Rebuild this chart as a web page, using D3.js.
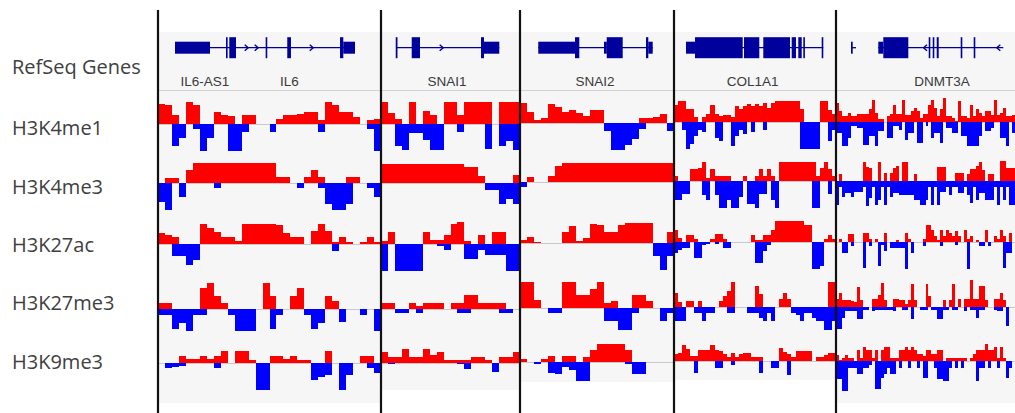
<!DOCTYPE html>
<html><head><meta charset="utf-8">
<script src="https://cdn.jsdelivr.net/npm/d3@7"></script>
<style>html,body{margin:0;padding:0;background:#fff;}svg{display:block}</style>
</head><body><svg id="c" width="1015" height="413"></svg>
<script>
// ---------------- data ----------------
const trackNames = ["H3K4me1", "H3K4me3", "H3K27ac", "H3K27me3", "H3K9me3"];
const regionNames = ["IL6", "SNAI1", "SNAI2", "COL1A1", "DNMT3A"];
const binsPerRegion = [32, 20, 22, 40, 60];

// signal above baseline (red) and below baseline (blue, magnitudes), per region
const H3K4me1_up = [
  [7.5,7,3.5,0,8,7,0,0,4.5,3.5,3,0,3.5,3.5,0,0,0,2,3.5,3.5,3.7,4.5,4.5,1.5,8,7,4.5,4.5,2.5,0,1.5,2],
  [8,4,2,0,8.1,0,4.7,3.5,0,8.1,8.1,3.5,8.1,8.1,8.1,8.1,0,8.1,8.1,8.1],
  [7.5,4,1.2,2,7,6,4,5,3.7,2.7,4.7,4.7,0,0,0,0,0,1.9,1.9,2.3,3.5,0],
  [6.4,7.7,7.7,5,5,2,0,2,3,6.4,3,2.3,2.5,2.5,1.8,6,5,6,6.5,6,6.5,6,7,5.3,7,7.7,7.7,7.7,7.7,7.7,7.7,5,0,0,0,0,7.7,7.7,4.6,3],
  [7,4,2.1,2.1,3.3,2.1,2.1,3.1,3.1,3.1,3.1,5,8.3,3.3,1.1,1.1,0,2.1,3,6.4,3.1,3.1,8.3,2.7,2.7,4,5.2,4,1.5,3.1,3.1,6.4,8.3,5.2,2.1,5,8.9,2.1,2.1,1.5,0.5,7.7,2.1,2.1,1.5,6.4,2.1,5,3.5,2.1,4,4,2.7,8.3,2.7,3.5,5.2,2.1,2.1,2.7]
];
const H3K4me1_down = [
  [0,0,8,5,0,2,10,5,0,0,10,10,3,0,0,0,3,0,0,0,0,0,0,3,0,0,0,0,0,0,2,10],
  [0,0,8.3,9.5,3.3,3.3,5.8,9.5,9.5,0,0,3.1,0,0,0,9.3,0,8.3,6.4,9.5],
  [0,0,0,0,0,0,0,0,0,0,0,0,3.1,9.9,9.9,8,6,2.2,0,0,0,3.1],
  [0,0,3,10,8,5,2.8,3.8,0,0,6,7,0,0,8.8,5.3,3,4.5,0,3.8,0,0,2.8,0,0,0,0,0,0,0,0,10,10,10,10,10,0,0,7.2,3],
  [4.1,4.1,9,9,5.9,1.4,1.4,2.2,2.2,8.4,8.4,5.3,5.3,9,3.5,3.5,0,5.9,5.9,1.6,1.6,2.8,0,6.5,4.1,4.1,0,7.8,7.8,0,1.4,0,5.9,4.1,4.1,7.8,0,2.2,2.2,4.1,4.1,0,5.3,5.3,9,9,9,9,5.3,0,3.5,3.5,2.2,0,0,5.9,5.9,9,0,4.1]
];
const H3K4me3_up = [
  [0,2,2,0,5,7.4,7.4,7.4,7.4,7.4,7.4,7.4,7.4,7.4,7.4,7.4,7.4,2.2,2.2,0,0,2.2,5,2.2,0,0,0,2.2,2.2,0,0,0],
  [7,7,7,7,7,7,7,7,7,7,7,7,6,6,2.5,0,0,0,0,3],
  [0,1.7,0,0,2.3,6,7,7,7,7,7,7,7,7,7,7,7,7,7,7,7,7],
  [1.7,0,0,0,4.6,4.6,5,7,1,4.6,1.7,1.7,1.7,1.7,0,0,0,1.7,0,0,1.7,4.6,1.7,4.6,1.7,0,7,7,7,7,7,7,7,7,7,1.7,5,7,4.6,1.7],
  [0,2.6,0,0,0,0,0,0,0,7.2,5.3,4.7,0,0,7.2,0,3,0,2.8,5,5.6,0,7.2,7.2,0,0,2.6,0,0,0,0,0,0,0,5.3,5.3,5.3,0,0,0,2.8,2.8,2.8,0,2.6,4.3,4.3,5.6,7.2,4,0,2.6,2.6,0,0,7.5,7.5,5,5,5]
];
const H3K4me3_down = [
  [7,10,0,5,0,0,0,0,2,0,0,0,0,0,0,0,0,0,0,0,2,0,0,2,7.7,10,10,7.7,0,0,2,5],
  [0,0,0,0,0,0,0,0,0,0,0,0,0,0,0,2.5,2.5,7.8,6,7.8],
  [2,0,0,0,0,0,0,0,0,0,0,0,0,0,0,0,0,0,0,0,0,0],
  [7.2,7.2,4.7,4.7,0,0,0,5,7.2,0,5,10,10,7.2,10,10,6,0,8.4,8.4,10,4.7,4.7,0,7.2,10,0,0,0,0,0,0,0,0,10,10,0,0,4.7,0],
  [8.9,2.1,5.8,4.6,4.6,6,4,4,4,2.1,9.3,6.4,2.1,8.9,7,2.1,8.9,2.1,5.8,4.6,4.6,5.2,5.2,5.2,5.2,5.2,7,7,8.9,8.9,7,2.1,8.9,2.1,8.9,4,4,2.1,5.2,2.1,2.1,4.6,4.6,2.1,5.2,8.3,2.1,7,4.6,4.6,7,7,7,2.1,8.9,2.1,7,2.1,8.9,8.9]
];
const H3K27ac_up = [
  [4.2,3.5,2.6,0,0,0,7.5,6,4.4,2.6,2.6,1,7.5,7.5,7.5,7.5,7.5,7,4,2.6,2.6,0,5,7.5,5,0.7,2.6,0.7,0,0.7,2.6,0.7],
  [1,4.4,0,0,0,0,4.4,1.6,1.6,3.5,7.5,8.1,1,0,3.5,0,4.4,4.4,0,0],
  [1,2.1,0.5,0,0,0,4,6.2,0.9,2,7,6.5,4.2,4.2,6.5,7.4,7.4,7.4,7.4,0,0,4],
  [4.3,1.5,0,2.7,2.7,1,0,0,0,1,3,3,1,0,0,0,0,0,0,2.7,0.8,0.8,2.7,2.7,4.6,7.7,7.7,7.7,7.7,7.7,7.7,7.7,6.2,6.2,0,0,0,1,2.7,1],
  [0,1.1,0,0,3,3,0,0,0,3.3,3.3,1.1,0,1.1,0,0,3.3,0,0,0,0.9,0,0,3.3,1,0,0,0,0,1.1,6.4,6.4,4.6,2.1,0.9,4.6,2.1,4.6,3.3,2.1,4,2.1,0,4.6,1,2.1,0,0.9,0,0,4.6,0,0,2.1,1,4.6,2.1,0,3.3,0]
];
const H3K27ac_down = [
  [0,0,4.5,4.5,7.7,6,0,0,0,0,0,0,0,0,0,0,0,0,0,0,0,0,0,0,0,2.6,0,0,0,0,0,0],
  [9.9,0,9.9,9.9,9.9,9.9,0,0,0.6,2.3,0,0,5.6,5.6,2.3,4,4,4,9.9,9.9],
  [0,0,0,0,0,0,0,0,0,0,0,0,0,0,0,0,0,0,0,4.7,10,4.7],
  [4,3,2.2,2.2,0,6,6,1,0.6,0,0.6,0,2.2,2.2,0,0,0,0,0,0,7.8,7.8,3.5,1,0,0,0,0,0,0,0,0,0,0,10,10,9,0,0,0],
  [0,0,4.1,4.1,0,1.4,0,0,0,9.6,0,1.4,0,0,8.8,1,3.5,0,2.2,2.2,2.2,2.2,2.2,10,0,4.1,0,0,0,1.4,0,0,0,0,0,1.4,0,0,0,0,1,0,0,0,10,0,0,0,1.4,1.4,0,1.4,0,0,0,0,9.6,4.1,4.1,0]
];
const H3K27me3_up = [
  [2.2,2.2,0,0,0,0,7.8,9.6,4.7,2.2,0,0,0,0,0,9.6,4.7,0,0,4.7,7.8,0,0,0,5,2.8,0,0,0,0,0,0],
  [2.3,2.3,0,0,2.3,1,2.3,2.3,2.3,0,2.3,2.3,5.2,5.2,2.3,2.3,2.3,2.3,0,0],
  [9.5,9.5,2.8,0,0,0,9.5,9.5,4.9,4.9,7,9.5,2,2.5,0,0,4.9,4.9,2.5,0,0,0],
  [5.1,2,0,2.2,2.2,0,2.2,0,0,0,0,2.2,4,5.9,9.3,0,0,0,0,0,7.8,5,0,0,0,0,3,5.3,3,0,0,0,0,0,0,0,0,0,9.3,9.3],
  [3,5.3,2.6,2.6,2.6,2.3,2,7.5,2.6,0,0,0,2.8,2.8,4.3,9,2.6,0,0,3,3,2.6,2.6,1,2.6,8.4,2.6,0,0,0,8.4,4,0,0,0,0,2.6,0,2.6,8.4,0,2.8,0,2.8,2.8,10,2.8,2.8,7.8,7.8,2.6,0,0,2.8,2.8,5.3,2.6,0,0,0]
];
const H3K27me3_down = [
  [2.1,2.1,7.4,5.2,8.3,2.1,2.1,0,0,0,2.1,8.3,8.3,8.3,0,0,7.4,2.1,0,0,0,2.1,7.4,5,0,0,4.8,0,0,2.1,0,8.3],
  [0,0,1.6,1.6,0,1.6,0,0,0,0,0,1.6,1.6,0,0,0,0,1.6,1.6,0],
  [0,0,0,0,1.9,1.9,0,0,0,0,0,0,4.9,4.9,8.3,8.3,1.9,0,0,0,4.9,1.9],
  [5.2,5.2,5.2,0,0,2.1,2.1,5.2,2.1,2.1,0,0,0,2.1,2.1,0,0,0,2.1,2.1,2.1,4,5.2,2.1,5.2,0,0,0,0,2.1,3,5.2,2.1,2.1,4,5.2,5.2,8.5,8.5,5.2],
  [8,8,4,1.5,1.5,1.5,1.5,4.6,4.6,1.1,1.1,0,1.5,1.1,1.1,1.1,1.1,1.1,1.1,1.5,0,0,1.1,1.1,0,4.6,0,0,1,1,1,0,1,1,4.6,4.6,1,1,0,1.1,1.1,0,0,1.5,0,1,1,4,1,1,0,0,0,1,1.5,1.5,0,7,0,0]
];
const H3K9me3_up = [
  [0,0,0,2.7,1.5,1.5,2.7,1.5,2.7,4.3,0,4.3,4.3,1.2,0,0,2.7,2.7,1.5,2.7,1.2,1.2,0,0,4.3,0,0,0,0,2.7,2.7,0],
  [4.1,2.2,2.2,5.3,2.2,2.2,5.3,3,4.1,1.2,1.2,1.2,1.2,2.2,2.2,1.2,0,2.2,2.2,4.1],
  [1,0,0,1,2.2,0,2.2,2.2,0,2,4.3,6.8,6.8,6.8,6.8,4.3,0,0,0,0,0,0],
  [2.5,3,5.9,4.5,1.8,1.8,4,4,4,5.9,4,3.7,2.5,1.5,3.1,1.5,2.5,3.1,3.1,1.5,1.5,1.5,0,0,0,0,4.9,3.5,2.5,1.5,3.7,3.7,3.7,3.7,0,1.5,1.5,2.2,3.1,3.1],
  [2.2,0.5,1.2,2.2,1,1.2,0,4,1.2,5.2,4,4,1.2,4,0,4,5.2,5.2,1.2,1.2,1.2,4,4,5.2,4,5.2,4,2.5,2.5,1.9,4,4,2.5,2.5,4,4,0,1.2,1.2,1.2,1.2,1.2,1.2,1.2,0,1.2,2.5,4,4,4,6.4,4,4,5.2,1.2,5.2,1.2,0,0,0]
];
const H3K9me3_down = [
  [0,1.9,1.5,1,0,0,0,0,1.9,0,0,0,0,0,10,10,0,0,0,0,0,0,6.4,5,4.3,0,10,4.3,0,0,1.9,3.7],
  [0,0.5,0,0,0,0,0,0,0,0,0,0.5,2.1,0,0,0,3.3,0,0,0],
  [0,0,0.9,0,4,4.6,2,3,7,7,0,0,0,0,0,0.9,4.6,4.6,0,0,0,0],
  [0,0,0,0,0,4.3,0,0,0,0,2.5,2.5,0,0,1.5,0,0,0,0,0,0,4.3,0,0,2.5,2.5,0,0,5.2,0,0,0,0,0,0,0,0,0,0,0],
  [6.8,6.8,11,11,2.5,2.5,2.5,4.9,4.9,2.5,2.5,1.5,0,10.5,10.5,6.2,4.9,2.5,4.9,4.9,0,2.5,0,0,2.5,0,0,2.5,0,6.2,6.2,0,0,2.5,6.8,6.8,7.4,7.4,2.5,0,2.5,0,2.5,0,0,0,0,7.4,2.5,2.5,0,2.5,0,0,2.5,0,0,6.2,2.5,0]
];
const upSeries = [H3K4me1_up, H3K4me3_up, H3K27ac_up, H3K27me3_up, H3K9me3_up];
const downSeries = [H3K4me1_down, H3K4me3_down, H3K27ac_down, H3K27me3_down, H3K9me3_down];

// RefSeq gene models, positions in bin units of each region
const geneLines = [
  [[2.44, 28.27]],
  [[2.16, 17.02]],
  [[2.61, 18.96]],
  [[2.96, 36.86]],
  [[5.03, 6.7], [14.18, 56.08]]
];
const geneExons = [
  [[2.44,7.46,"utr"],[9.76,9.98,"cds"],[10.23,11.19,"cds"],[15.45,15.64,"cds"],[18.55,19.08,"cds"],[26.12,26.59,"cds"],[26.59,28.27,"utr"]],
  [[2.12,2.37,"cds"],[4.42,5.61,"cds"],[14.39,14.82,"cds"],[14.82,17.02,"utr"]],
  [[2.61,7.86,"utr"],[7.86,8.47,"cds"],[12.0,12.4,"utr"],[12.39,14.67,"cds"],[18.0,18.33,"cds"],[18.33,18.96,"utr"]],
  [[2.96,5.19,"utr"],[5.19,16.96,"cds"],[17.28,21.06,"cds"],[22.05,28.64,"cds"],[29.06,30.12,"cds"],[30.69,31.53,"cds"],[31.93,32.27,"cds"],[36.47,36.86,"cds"]],
  [[5.03,5.6,"utr"],[14.18,15.86,"utr"],[15.86,24.24,"cds"],[31.08,31.51,"cds"],[32.42,32.95,"cds"],[33.76,34.43,"cds"],[41.8,42.24,"cds"],[46.16,46.6,"cds"]]
];
const geneArrows = [
  [[12.73,1],[14.16,1],[22.06,1]],
  [[8.73,1]],
  [],
  [],
  [[29.84,-1],[54.41,-1]]
];
const geneLabels = [
  [[6.74,"IL6-AS1"],[18.87,"IL6"]],
  [[9.5,"SNAI1"]],
  [[10.71,"SNAI2"]],
  [[19.4,"COL1A1"]],
  [[35.5,"DNMT3A"]]
];

// ---------------- layout ----------------
const W = 1015, H = 413;
const regionLeft = [158, 381, 520, 674, 836];
const regionRight = [381, 520, 674, 836, 1015];
const regionBottom = [403, 390, 382, 380, 403];
const regionShift = [1, 1, 0, -1, -1];
const trackBase = [123, 182, 243, 308, 362];
const labelBase = [135, 193.5, 251.5, 310, 368.5];
const unitPx = 2.7;
const RED = "#ff0000", BLUE = "#0000ff", GENE = "#00009c";
const geneY = 47.7;

const svg = d3.select("#c");
svg.append("rect").attr("width", W).attr("height", H).attr("fill", "#fff");

const gBg = svg.append("g");
const gBars = svg.append("g").attr("shape-rendering", "crispEdges");
const gGene = svg.append("g");

regionNames.forEach((name, r) => {
  const n = binsPerRegion[r];
  const x = d3.scaleLinear().domain([0, n]).range([regionLeft[r], regionRight[r]]);
  gBg.append("rect")
    .attr("x", regionLeft[r]).attr("y", 32)
    .attr("width", regionRight[r] - regionLeft[r]).attr("height", regionBottom[r] - 32)
    .attr("fill", "#f6f6f6");
  gBg.append("line")
    .attr("x1", regionLeft[r]).attr("x2", regionRight[r])
    .attr("y1", 90.5).attr("y2", 90.5)
    .attr("stroke", "#d2d2d2").attr("stroke-width", 1);

  trackNames.forEach((tn, t) => {
    const base = trackBase[t] + regionShift[r];
    const y = d3.scaleLinear().domain([-11, 10]).range([base + 11 * unitPx, base - 10 * unitPx]);
    gBg.append("line")
      .attr("x1", regionLeft[r]).attr("x2", regionRight[r])
      .attr("y1", y(0) + 0.5).attr("y2", y(0) + 0.5)
      .attr("stroke", "#c9c9c9").attr("stroke-width", 1);

    const mk = (vals, sign) => {
      const pts = vals.map((v, i) => [i, sign * v]);
      pts.push([vals.length, sign * vals[vals.length - 1]]);
      return d3.area()
        .x(d => x(d[0]))
        .y0(y(0))
        .y1(d => y(d[1]))
        .curve(d3.curveStepAfter)(pts);
    };
    gBars.append("path").attr("d", mk(upSeries[t][r], 1)).attr("fill", RED);
    gBars.append("path").attr("d", mk(downSeries[t][r], -1)).attr("fill", BLUE);
  });

  // gene model
  geneLines[r].forEach(([a, b]) => {
    gGene.append("line")
      .attr("x1", x(a)).attr("x2", x(b))
      .attr("y1", geneY).attr("y2", geneY)
      .attr("stroke", GENE).attr("stroke-width", 1.3);
  });
  geneExons[r].forEach(([a, b, kind]) => {
    const h = kind === "cds" ? 21 : 12;
    const w = Math.max(1.6, x(b) - x(a));
    gGene.append("rect")
      .attr("x", x(a)).attr("y", geneY - h / 2)
      .attr("width", w).attr("height", h)
      .attr("fill", GENE);
  });
  geneArrows[r].forEach(([p, dir]) => {
    const cx = x(p);
    gGene.append("path")
      .attr("d", `M${cx - 2 * dir},${geneY - 3} L${cx + 1.5 * dir},${geneY} L${cx - 2 * dir},${geneY + 3}`)
      .attr("fill", "none").attr("stroke", GENE).attr("stroke-width", 1.4);
  });
  geneLabels[r].forEach(([p, txt]) => {
    gGene.append("text")
      .attr("x", x(p)).attr("y", 85.5)
      .attr("text-anchor", "middle")
      .attr("font-family", "'Liberation Sans', Arial, sans-serif")
      .attr("font-size", 13.5)
      .attr("fill", "#3a3a3a")
      .text(txt);
  });
});

// separators between regions
regionLeft.forEach(xp => {
  svg.append("line")
    .attr("x1", xp).attr("x2", xp).attr("y1", 10).attr("y2", H)
    .attr("stroke", "#111").attr("stroke-width", 2.2);
});

// left labels
const gLab = svg.append("g")
  .attr("font-family", "'Open Sans', 'Noto Sans', sans-serif")
  .attr("font-size", 20).attr("fill", "#404040");
gLab.append("text").attr("x", 12).attr("y", 73.5).text("RefSeq Genes");
trackNames.forEach((tn, t) => {
  gLab.append("text").attr("x", 12).attr("y", labelBase[t]).text(tn);
});
</script>
</body></html>
